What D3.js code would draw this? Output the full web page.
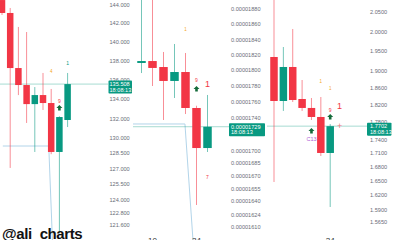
<!DOCTYPE html>
<html>
<head>
<meta charset="utf-8">
<script src="https://cdn.jsdelivr.net/npm/d3@7"></script>
<style>
  html, body { margin: 0; padding: 0; background: #fff; }
  svg { display: block; font-family: "Liberation Sans", Arial, sans-serif; }
</style>
</head>
<body>
<div id="chart"></div>
<script>
// candles are [open, high, low, close]
const leftCandles = [
  [144.55, 145.60, 142.90, 143.12],
  [143.12, 143.67, 127.05, 137.19],
  [137.19, 141.59, 134.37, 135.41],
  [135.41, 141.04, 131.52, 133.44],
  [133.44, 135.20, 128.62, 134.37],
  [134.37, 136.67, 132.84, 133.55],
  [133.55, 135.00, 128.40, 128.62],
  [128.62, 132.20, 120.85, 132.12],
  [131.82, 136.67, 131.11, 135.508]
];
const leftTicks = [144, 142, 140, 138, 136, 134, 132, 130, 128.5, 127, 125.5, 124, 122.8, 121.6];

const midCandles = [
  [1.8092e-5, 1.8950e-5, 1.7963e-5, 1.8117e-5],
  [1.8117e-5, 1.8950e-5, 1.7798e-5, 1.8028e-5],
  [1.8040e-5, 1.8234e-5, 1.7373e-5, 1.7862e-5],
  [1.7862e-5, 1.8338e-5, 1.7647e-5, 1.7976e-5],
  [1.7976e-5, 1.8221e-5, 1.7447e-5, 1.7522e-5],
  [1.7522e-5, 1.7550e-5, 1.6354e-5, 1.7030e-5],
  [1.7030e-5, 1.7685e-5, 1.6982e-5, 1.7290e-5]
];
const midTicks = [1.900e-5, 1.880e-5, 1.860e-5, 1.840e-5, 1.820e-5, 1.800e-5, 1.780e-5, 1.760e-5, 1.740e-5,
  1.700e-5, 1.685e-5, 1.670e-5, 1.655e-5, 1.640e-5, 1.624e-5, 1.610e-5];

const rightCandles = [
  [1.9348, 2.0900, 1.6476, 1.8284],
  [1.8284, 1.9598, 1.8051, 1.9101],
  [1.9101, 2.0057, 1.8260, 1.8307],
  [1.8331, 1.8784, 1.8051, 1.8121],
  [1.8121, 1.8354, 1.7843, 1.7912],
  [1.7912, 1.8378, 1.7036, 1.7102],
  [1.7102, 1.7750, 1.5955, 1.7702]
];
const rightTicks = [2.1, 2.05, 2.0, 1.95, 1.90, 1.86, 1.82, 1.78, 1.74, 1.71, 1.68, 1.65, 1.62, 1.59, 1.565];

// signal marks: [candle index, price, text, kind]
const leftMarks = [
  [8, 137.72, "1", "green"],
  [6, 136.88, "4", "orange"],
  [7, 133.76, "9", "red"],
  [7, 133.04, "", "arrow"]
];
const midMarks = [
  [4, 1.8535e-5, "1", "orange"],
  [5, 1.7874e-5, "9", "red"],
  [5, 1.7760e-5, "", "arrow"],
  [6, 1.7823e-5, "1", "bigred"],
  [6, 1.6683e-5, "7", "red"]
];
const rightMarks = [
  [5, 1.8760, "1", "orange"],
  [6, 1.8592, "1", "orange"],
  [6, 1.8074, "9", "red"],
  [7, 1.8167, "1", "bigred"],
  [6, 1.7912, "", "arrow"],
  [4, 1.7593, "", "arrow"],
  [4, 1.7412, "C13", "purple"],
  [7, 1.7706, "+", "cross"]
];

// drawn rays: [candle index, price]
const leftRay = [[0.1, 129.21], [5.7, 129.21], [6.15, 120.2]];
const midRay = [[-0.8, 1.7324e-5], [3.95, 1.7324e-5], [4.68, 1.5952e-5]];

const midDates = [[1, "10"], [5, "24"]];
const rightDates = [[6, "24"]];
const lastTime = "18:08:13";

const up = "#089981";
const down = "#F23645";

const panels = [
  {
    id: "pl", candles: leftCandles, ticks: leftTicks, marks: leftMarks, ray: leftRay, dates: [],
    x: d3.scaleLinear().domain([0, 8]).range([2, 67.6]),
    y: d3.scaleLog().domain([121.6, 144]).range([225, 5]),
    fmt: d3.format(".3f"), clip: [0, 108], bodyW: 6.5, labelX: 109.5, tagX: 108.5, tagW: 23.5
  },
  {
    id: "pm", candles: midCandles, ticks: midTicks, marks: midMarks, ray: midRay, dates: midDates,
    x: d3.scaleLinear().domain([0, 6]).range([141.5, 207.5]),
    y: d3.scaleLog().domain([1.61e-5, 1.88e-5]).range([227, 9]),
    fmt: d3.format(".8f"), clip: [133, 229], bodyW: 8.5, labelX: 231, tagX: 229, tagW: 36
  },
  {
    id: "pr", candles: rightCandles, ticks: rightTicks, marks: rightMarks, ray: null, dates: rightDates,
    x: d3.scaleLinear().domain([0, 6]).range([274, 330.2]),
    y: d3.scaleLog().domain([1.565, 2.05]).range([222, 12]),
    fmt: d3.format(".4f"), clip: [267, 367], bodyW: 7.5, labelX: 370, tagX: 367, tagW: 24.5
  }
];

const svg = d3.select("#chart").append("svg").attr("width", 400).attr("height", 240);
const defs = svg.append("defs");
svg.append("rect").attr("width", 400).attr("height", 240).attr("fill", "#fff");

const markStyle = {
  green: { fill: up, size: 5 },
  orange: { fill: "#f5a623", size: 4.5 },
  red: { fill: down, size: 5 },
  bigred: { fill: down, size: 9 },
  purple: { fill: "#b05fd6", size: 5.5 },
  cross: { fill: "#f07a85", size: 9 }
};

const drawPanel = (p) => {
  defs.append("clipPath").attr("id", p.id)
    .append("rect")
    .attr("x", p.clip[0]).attr("y", 0)
    .attr("width", p.clip[1] - p.clip[0]).attr("height", 240);

  const plot = svg.append("g").attr("clip-path", `url(#${p.id})`);
  const last = p.candles[p.candles.length - 1];
  const lastUp = last[3] >= last[0];
  const lastY = p.y(last[3]);

  if (p.ray) {
    plot.append("path")
      .datum(p.ray)
      .attr("d", d3.line().x(d => p.x(d[0])).y(d => p.y(d[1])))
      .attr("fill", "none")
      .attr("stroke", "#a9cfe6")
      .attr("stroke-width", 0.9);
  }

  plot.append("line")
    .attr("x1", p.clip[0]).attr("x2", p.clip[1])
    .attr("y1", lastY).attr("y2", lastY)
    .attr("stroke", lastUp ? up : down)
    .attr("stroke-opacity", 0.45)
    .attr("stroke-width", 0.8);

  const color = d => (d[3] >= d[0] ? up : down);
  const candle = plot.selectAll("g.candle").data(p.candles).join("g").attr("class", "candle");
  candle.append("line")
    .attr("x1", (d, i) => p.x(i)).attr("x2", (d, i) => p.x(i))
    .attr("y1", d => p.y(d[1])).attr("y2", d => p.y(d[2]))
    .attr("stroke", color)
    .attr("stroke-opacity", 0.7)
    .attr("stroke-width", 0.8);
  candle.append("rect")
    .attr("x", (d, i) => p.x(i) - p.bodyW / 2)
    .attr("y", d => p.y(Math.max(d[0], d[3])))
    .attr("width", p.bodyW)
    .attr("height", d => Math.max(1.5, Math.abs(p.y(d[0]) - p.y(d[3]))))
    .attr("fill", color);

  p.marks.forEach(m => {
    const mx = p.x(m[0]);
    const my = p.y(m[1]);
    if (m[3] === "arrow") {
      plot.append("path")
        .attr("d", "M0,-3 L3,0 L1.3,0 L1.3,2.6 L-1.3,2.6 L-1.3,0 L-3,0 Z")
        .attr("transform", `translate(${mx},${my})`)
        .attr("fill", "#146b3a");
    } else {
      const s = markStyle[m[3]];
      plot.append("text")
        .attr("x", mx).attr("y", my)
        .attr("dy", "0.35em")
        .attr("text-anchor", "middle")
        .attr("font-size", s.size)
        .attr("fill", s.fill)
        .text(m[2]);
    }
  });

  const axis = svg.append("g")
    .attr("transform", `translate(${p.labelX},0)`)
    .call(d3.axisRight(p.y).tickValues(p.ticks).tickFormat(p.fmt).tickSize(0).tickPadding(0));
  axis.select(".domain").remove();
  axis.selectAll("text")
    .attr("font-size", 5.6)
    .attr("font-family", "Liberation Sans, Arial, sans-serif")
    .attr("fill", "#6a6d78");

  const tag = svg.append("g").attr("transform", `translate(${p.tagX},${lastY - 3.5})`);
  tag.append("rect")
    .attr("width", p.tagW).attr("height", 13)
    .attr("rx", 0.8)
    .attr("fill", lastUp ? up : down);
  tag.append("text")
    .attr("x", p.labelX - p.tagX).attr("y", 5.3)
    .attr("font-size", 5.6).attr("fill", "#fff")
    .text(p.fmt(last[3]));
  tag.append("text")
    .attr("x", p.labelX - p.tagX).attr("y", 11)
    .attr("font-size", 5.6).attr("fill", "#fff")
    .text(lastTime);

  p.dates.forEach(d => {
    svg.append("text")
      .attr("x", p.x(d[0])).attr("y", 243)
      .attr("text-anchor", "middle")
      .attr("font-size", 8)
      .attr("fill", "#333")
      .text(d[1]);
  });
};

panels.forEach(drawPanel);

svg.append("text")
  .attr("x", 2).attr("y", 238.5)
  .attr("font-size", 15)
  .attr("font-weight", "bold")
  .attr("letter-spacing", -0.4)
  .attr("fill", "#111")
  .text("@ali_charts");
</script>
</body>
</html>
